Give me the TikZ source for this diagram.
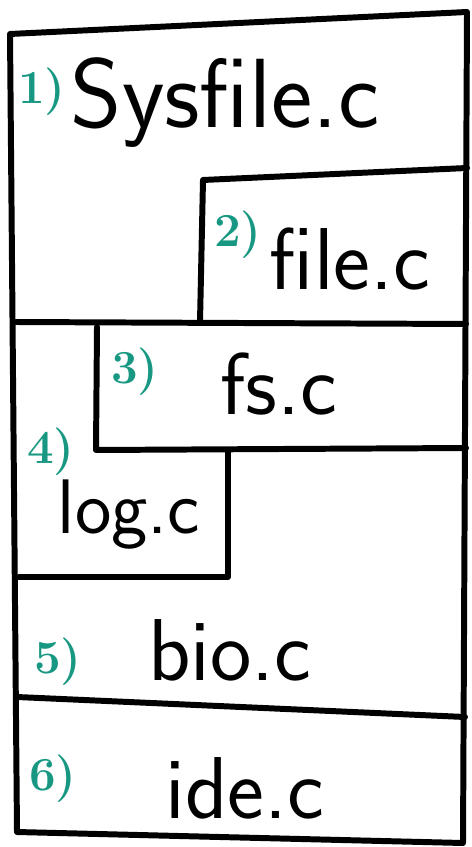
\documentclass[tikz,border=0pt]{standalone}
\usepackage{fontspec}
\usepackage{tikz}

\definecolor{numteal}{RGB}{24,152,130}
\tikzset{
  wall/.style={black, line width=3.4pt, line cap=round, line join=round},
  layernum/.style={text=numteal, font=\fontsize{27}{27}\selectfont\bfseries},
  srcname/.style={anchor=base, font=\fontsize{50}{50}\selectfont\sffamily}
}

\begin{document}
\begin{tikzpicture}[x=0.02cm, y=0.02cm]
\tikzstyle{every node}+=[inner sep=0pt]
\useasboundingbox (0,0) rectangle (472,-847);
% outer frame
\draw [wall] (10,-34) -- (467,-12) -- (463,-843) -- (17,-832) -- cycle;
% sysfile.c / file.c
\draw [wall] (200,-322) -- (203,-180) -- (467,-168);
\draw [wall] (16,-322) -- (466,-324);
% fs.c
\draw [wall] (97,-327) -- (96,-450) -- (466,-448);
% log.c
\draw [wall] (228,-452) -- (228,-577) -- (19,-577);
% bio.c / ide.c
\draw [wall] (17,-697) -- (465,-717);
% layer numbers
\node [layernum] (num1) at (42,-92) {1)};
\node [layernum] (num2) at (238,-235) {2)};
\node [layernum] (num3) at (135,-372) {3)};
\node [layernum] (num4) at (51,-452) {4)};
\node [layernum] (num5) at (58,-662) {5)};
\node [layernum] (num6) at (53,-779) {6)};
% source files
\node [srcname, font=\fontsize{56}{56}\selectfont\sffamily] (sysfile) at (225,-128) {Sysfile.c};
\node [srcname] (filec) at (350,-290) {file.c};
\node [srcname] (fsc) at (279,-414) {fs.c};
\node [srcname, font=\fontsize{44}{44}\selectfont\sffamily] (logc) at (129,-533) {log.c};
\node [srcname] (bioc) at (230,-680) {bio.c};
\node [srcname] (idec) at (245,-818) {ide.c};
\end{tikzpicture}
\end{document}
